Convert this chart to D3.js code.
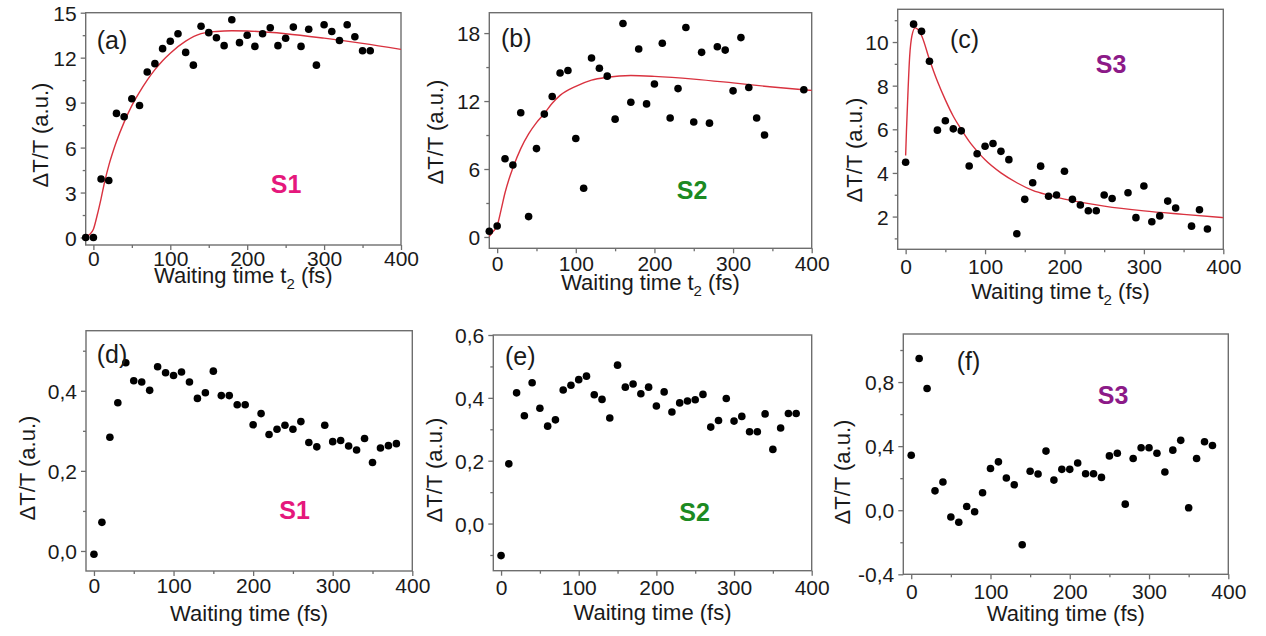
<!DOCTYPE html>
<html>
<head>
<meta charset="utf-8">
<script src="https://cdn.jsdelivr.net/npm/d3@7"></script>
<style>
body { margin: 0; background: #fff; }
text { font-family: Arial, "Liberation Sans", sans-serif; fill: #1a1a1a; }
</style>
</head>
<body>
<div id="chart"></div>
<script>
// ---- data ----
var xTicks = [0, 100, 200, 300, 400];
var xMinor = [50, 150, 250, 350];

// (a) S1, top row with fit
var aTime = [-10, 0, 10, 20, 30, 40, 50, 60, 70, 80, 90, 100, 110, 120, 130, 140, 150, 160, 170, 180, 190, 200, 210, 220, 230, 240, 250, 260, 270, 280, 290, 300, 310, 320, 330, 340, 350, 360];
var aSignal = [0, 0, 3.9, 3.8, 8.28, 8.06, 9.26, 8.81, 11.04, 11.6, 12.6, 13.1, 13.6, 12.35, 11.5, 14.1, 13.67, 13.33, 12.8, 14.53, 13.0, 13.5, 12.75, 13.6, 14.0, 12.8, 13.3, 14.04, 12.75, 13.9, 11.5, 14.2, 13.75, 13.15, 14.2, 13.4, 12.46, 12.46];
var aFitTime = [-10, -5, 0, 5, 10, 15, 20, 26, 30, 40, 50, 60, 70, 80, 90, 100, 120, 140, 160, 180, 200, 250, 300, 350, 400];
var aFitSignal = [0.05, 0.2, 0.55, 1.5, 2.6, 3.8, 4.8, 5.8, 6.4, 7.7, 8.8, 9.7, 10.5, 11.2, 11.8, 12.3, 13.1, 13.6, 13.75, 13.8, 13.78, 13.6, 13.3, 12.95, 12.55];
var aYTicks = [0, 3, 6, 9, 12, 15];
var aYMinor = [1.5, 4.5, 7.5, 10.5, 13.5];

// (b) S2
var bTime = [-10, 0, 10, 20, 30, 40, 50, 60, 70, 80, 90, 100, 110, 120, 130, 140, 150, 160, 170, 180, 190, 200, 210, 220, 230, 240, 250, 260, 270, 280, 290, 300, 310, 320, 330, 340, 390];
var bSignal = [0.5, 0.97, 6.9, 6.35, 10.97, 1.8, 7.8, 10.85, 12.4, 14.47, 14.7, 8.7, 4.3, 15.8, 14.9, 14.2, 10.4, 18.85, 11.9, 16.6, 11.75, 13.5, 17.1, 10.5, 13.1, 18.5, 10.15, 16.3, 10.05, 16.8, 16.5, 12.9, 17.6, 13.2, 10.5, 9.0, 13.0];
var bFitTime = [-10, -5, 0, 5, 10, 15, 20, 30, 40, 50, 60, 70, 80, 100, 120, 140, 170, 200, 250, 300, 350, 400];
var bFitSignal = [0.05, 0.5, 1.0, 2.4, 3.9, 5.1, 6.1, 7.8, 9.1, 10.1, 10.9, 11.8, 12.5, 13.3, 13.85, 14.1, 14.25, 14.18, 13.94, 13.6, 13.24, 12.94];
var bYTicks = [0, 6, 12, 18];
var bYMinor = [3, 9, 15];

// (c) S3
var cTime = [0, 10, 20, 30, 40, 50, 60, 70, 80, 90, 100, 110, 120, 130, 140, 150, 160, 170, 180, 190, 200, 210, 220, 230, 240, 250, 260, 280, 290, 300, 310, 320, 330, 340, 360, 370, 380];
var cSignal = [4.49, 10.82, 10.49, 9.12, 5.96, 6.39, 6.02, 5.93, 4.32, 4.88, 5.22, 5.35, 4.99, 4.61, 1.21, 2.79, 3.55, 4.31, 2.93, 2.99, 4.08, 2.79, 2.53, 2.27, 2.27, 2.99, 2.83, 3.09, 1.95, 3.4, 1.76, 2.03, 2.71, 2.39, 1.56, 2.31, 1.43];
var cFitTime = [0, 1, 2.5, 5, 8, 12, 16, 20, 30, 40, 50, 60, 70, 80, 90, 100, 120, 140, 160, 180, 200, 250, 300, 350, 400];
var cFitSignal = [4.8, 5.9, 7.3, 9.3, 10.3, 10.65, 10.55, 10.3, 9.2, 8.2, 7.35, 6.6, 6.0, 5.45, 5.0, 4.6, 4.0, 3.55, 3.2, 2.98, 2.8, 2.48, 2.26, 2.1, 1.95];
var cYTicks = [2, 4, 6, 8, 10];
var cYMinor = [1, 3, 5, 7, 9, 11];

// bottom row: same waiting times for all three
var lowTime = [0, 10, 20, 30, 40, 50, 60, 70, 80, 90, 100, 110, 120, 130, 140, 150, 160, 170, 180, 190, 200, 210, 220, 230, 240, 250, 260, 270, 280, 290, 300, 310, 320, 330, 340, 350, 360, 370, 380];
var dSignal = [-0.008, 0.0715, 0.284, 0.37, 0.47, 0.425, 0.422, 0.401, 0.46, 0.445, 0.438, 0.447, 0.422, 0.381, 0.395, 0.449, 0.388, 0.388, 0.365, 0.365, 0.315, 0.343, 0.291, 0.304, 0.314, 0.304, 0.323, 0.271, 0.26, 0.314, 0.273, 0.276, 0.262, 0.252, 0.281, 0.221, 0.257, 0.263, 0.268];
var eSignal = [-0.102, 0.19, 0.416, 0.343, 0.448, 0.367, 0.31, 0.33, 0.425, 0.44, 0.458, 0.469, 0.41, 0.395, 0.336, 0.504, 0.434, 0.444, 0.413, 0.434, 0.374, 0.419, 0.355, 0.384, 0.39, 0.394, 0.411, 0.307, 0.328, 0.398, 0.326, 0.341, 0.292, 0.292, 0.349, 0.236, 0.304, 0.35, 0.35];
var fSignal = [0.343, 0.947, 0.76, 0.121, 0.176, -0.042, -0.075, 0.023, -0.01, 0.109, 0.26, 0.302, 0.201, 0.159, -0.216, 0.243, 0.226, 0.369, 0.188, 0.255, 0.255, 0.295, 0.228, 0.228, 0.205, 0.339, 0.356, 0.038, 0.323, 0.39, 0.39, 0.356, 0.239, 0.375, 0.436, 0.015, 0.323, 0.427, 0.404];
var dYTicks = [0, 0.2, 0.4];
var dYMinor = [0.1, 0.3, 0.5];
var eYTicks = [0, 0.2, 0.4, 0.6];
var eYMinor = [-0.1, 0.1, 0.3, 0.5];
var fYTicks = [-0.4, 0, 0.4, 0.8];
var fYMinor = [-0.2, 0.2, 0.6, 1.0];

var sampleColor = { S1: "#e5187c", S2: "#1c8a22", S3: "#8c1a88" };

// ---- drawing ----
var width = 1266, height = 636;
var frameColor = "#6e6e6e";

var svg = d3.select("#chart").append("svg")
	.attr("width", width)
	.attr("height", height);

var commaLocale = d3.formatLocale({ decimal: ",", thousands: ".", grouping: [3], currency: ["", ""], minus: "-" });
var fmtInt = d3.format("d");
var fmtComma = commaLocale.format(".1f");

function zip(xs, ys) {
	return xs.map(function(t, i) { return { t: t, v: ys[i] }; });
}

function drawPanel(p) {
	var x = d3.scaleLinear().domain([-10, 400]).range([p.left, p.right]);
	var y = d3.scaleLinear().domain(p.yDomain).range([p.bottom, p.top]);
	var g = svg.append("g");

	// minor ticks first
	g.append("g")
		.attr("class", "minor")
		.attr("transform", "translate(0," + p.bottom + ")")
		.call(d3.axisBottom(x).tickValues(xMinor).tickSize(3).tickSizeOuter(0).tickFormat(""));
	g.append("g")
		.attr("class", "minor")
		.attr("transform", "translate(" + p.left + ",0)")
		.call(d3.axisLeft(y).tickValues(p.yMinor).tickSize(3).tickSizeOuter(0).tickFormat(""));

	var xAxis = g.append("g")
		.attr("transform", "translate(0," + p.bottom + ")")
		.call(d3.axisBottom(x).tickValues(xTicks).tickSize(5).tickSizeOuter(0).tickFormat(fmtInt));
	xAxis.selectAll("text")
		.attr("y", p.xTickBase - p.bottom)
		.attr("dy", null);

	var yAxis = g.append("g")
		.attr("transform", "translate(" + p.left + ",0)")
		.call(d3.axisLeft(y).tickValues(p.yTicks).tickSize(5).tickSizeOuter(0).tickFormat(p.fmt));
	yAxis.selectAll("text")
		.attr("x", -9)
		.attr("dy", "0.36em");

	g.selectAll(".domain").remove();
	g.selectAll(".tick line")
		.attr("stroke", frameColor)
		.attr("stroke-width", 1.3);
	g.selectAll(".tick text")
		.attr("font-family", null)
		.attr("fill", "#1a1a1a")
		.style("font-size", "21px");

	g.append("rect")
		.attr("x", p.left)
		.attr("y", p.top)
		.attr("width", p.right - p.left)
		.attr("height", p.bottom - p.top)
		.attr("fill", "none")
		.attr("stroke", frameColor)
		.attr("stroke-width", 1.4);

	if (p.fit) {
		var line = d3.line()
			.x(function(d) { return x(d.t); })
			.y(function(d) { return y(d.v); })
			.curve(d3.curveMonotoneX);
		g.append("path")
			.datum(p.fit)
			.attr("d", line)
			.attr("fill", "none")
			.attr("stroke", "#d9323f")
			.attr("stroke-width", 1.4);
	}

	g.append("g")
		.selectAll("circle")
		.data(p.points)
		.enter().append("circle")
			.attr("cx", function(d) { return x(d.t); })
			.attr("cy", function(d) { return y(d.v); })
			.attr("r", 3.8)
			.attr("fill", "#000");

	// x title, with subscript on the top row
	var xt = g.append("text")
		.attr("x", (p.left + p.right) / 2)
		.attr("y", p.xTitleBase)
		.attr("text-anchor", "middle")
		.style("font-size", "22px");
	if (p.sub) {
		xt.append("tspan").text("Waiting time t");
		xt.append("tspan").attr("dy", 6).style("font-size", "15px").text("2");
		xt.append("tspan").attr("dy", -6).text(" (fs)");
	} else {
		xt.text("Waiting time (fs)");
	}

	g.append("text")
		.attr("transform", "translate(" + p.yTitleX + "," + p.yTitleY + ") rotate(-90)")
		.attr("text-anchor", "middle")
		.attr("dy", "0.36em")
		.style("font-size", "22px")
		.text("\u0394T/T (a.u.)");

	g.append("text")
		.attr("x", p.tagX)
		.attr("y", p.tagY)
		.style("font-size", "25px")
		.text(p.tag);

	g.append("text")
		.attr("x", p.nameX)
		.attr("y", p.nameY)
		.attr("text-anchor", "middle")
		.style("font-size", "25px")
		.style("font-weight", "bold")
		.style("fill", sampleColor[p.name])
		.text(p.name);
}

var panels = [
	{ tag: "(a)", name: "S1", left: 85.7, right: 401, top: 12.7, bottom: 245, yDomain: [-0.5, 15],
	  yTicks: aYTicks, yMinor: aYMinor, fmt: fmtInt, points: zip(aTime, aSignal), fit: zip(aFitTime, aFitSignal),
	  sub: true, xTickBase: 266, xTitleBase: 283, yTitleX: 40, yTitleY: 135,
	  tagX: 96.7, tagY: 49, nameX: 286, nameY: 193 },
	{ tag: "(b)", name: "S2", left: 489.3, right: 811.7, top: 12.7, bottom: 248.3, yDomain: [-1, 19.8],
	  yTicks: bYTicks, yMinor: bYMinor, fmt: fmtInt, points: zip(bTime, bSignal), fit: zip(bFitTime, bFitSignal),
	  sub: true, xTickBase: 271, xTitleBase: 289.5, yTitleX: 435, yTitleY: 132,
	  tagX: 501, tagY: 46.7, nameX: 692, nameY: 199.3 },
	{ tag: "(c)", name: "S3", left: 897.7, right: 1223.3, top: 9.3, bottom: 249.3, yDomain: [0.5, 11.5],
	  yTicks: cYTicks, yMinor: cYMinor, fmt: fmtInt, points: zip(cTime, cSignal), fit: zip(cFitTime, cFitSignal),
	  sub: true, xTickBase: 274.5, xTitleBase: 299, yTitleX: 854, yTitleY: 150,
	  tagX: 950, tagY: 48.3, nameX: 1111, nameY: 73.3 },
	{ tag: "(d)", name: "S1", left: 86, right: 412.3, top: 330.7, bottom: 571, yDomain: [-0.05, 0.55],
	  yTicks: dYTicks, yMinor: dYMinor, fmt: fmtComma, points: zip(lowTime, dSignal), fit: null,
	  sub: false, xTickBase: 593, xTitleBase: 621, yTitleX: 27, yTitleY: 468,
	  tagX: 96.7, tagY: 363.3, nameX: 294.5, nameY: 519.3 },
	{ tag: "(e)", name: "S2", left: 493.3, right: 811.7, top: 335, bottom: 570.7, yDomain: [-0.15, 0.6],
	  yTicks: eYTicks, yMinor: eYMinor, fmt: fmtComma, points: zip(lowTime, eSignal), fit: null,
	  sub: false, xTickBase: 595.5, xTitleBase: 619.5, yTitleX: 434, yTitleY: 470,
	  tagX: 505, tagY: 365, nameX: 694.5, nameY: 520.7 },
	{ tag: "(f)", name: "S3", left: 903.3, right: 1228.3, top: 334, bottom: 574.3, yDomain: [-0.4, 1.1],
	  yTicks: fYTicks, yMinor: fYMinor, fmt: fmtComma, points: zip(lowTime, fSignal), fit: null,
	  sub: false, xTickBase: 599.5, xTitleBase: 621, yTitleX: 842, yTitleY: 472,
	  tagX: 956.7, tagY: 370, nameX: 1113, nameY: 404 }
];

panels.forEach(drawPanel);
</script>
</body>
</html>
